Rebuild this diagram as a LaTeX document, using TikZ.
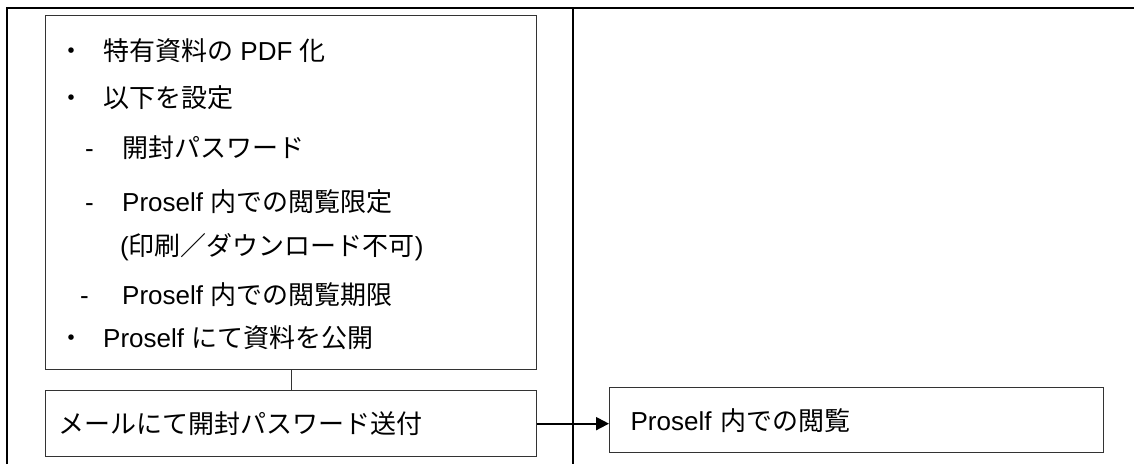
\documentclass[tikz,border=0pt]{standalone}
\usepackage{fontspec}
\setmainfont{Liberation Sans}
\newfontfamily\jpfont{Noto Sans CJK JP}
\newcommand{\ja}[1]{{\jpfont #1}}
\usetikzlibrary{arrows.meta}

\begin{document}
\begin{tikzpicture}[x=1pt,y=-1pt,
    frame/.style={line width=2.6pt},
    box/.style={draw=black!80,line width=1.3pt,inner sep=0pt,anchor=north west},
    item/.style={anchor=west,inner sep=0pt,text height=22pt,text depth=5pt,
      font=\fontsize{26}{30}\selectfont}]
  \useasboundingbox (0,0) rectangle (1136,464);
  % table rules
  \coordinate (tl) at (7,8);
  \coordinate (tr) at (1134,8);
  \coordinate (bl) at (7,464);
  \coordinate (mt) at (573,8);
  \coordinate (mb) at (573,464);
  \draw[frame] (bl) -- (tl) -- (tr);
  \draw[frame] (mt) -- (mb);

  % preparation box
  \node[box,minimum width=491pt,minimum height=354pt] (prep) at (45,15) {};
  \node[item] (p1) at (58,52) {\makebox[45pt][l]{\ja{・}}\ja{特有資料の} PDF \ja{化}};
  \node[item] (p2) at (58,99) {\makebox[45pt][l]{\ja{・}}\ja{以下を設定}};
  \node[item] (p3) at (85,149) {\makebox[37pt][l]{-}\ja{開封パスワード}};
  \node[item] (p4) at (85,203) {\makebox[37pt][l]{-}Proself \ja{内での閲覧限定}};
  \node[item] (p5) at (120,247) {(\ja{印刷／ダウンロード不可})};
  \node[item] (p6) at (80,296) {\makebox[42pt][l]{-}Proself \ja{内での閲覧期限}};
  \node[item] (p7) at (58,339) {\makebox[45pt][l]{\ja{・}}Proself \ja{にて資料を公開}};

  % mail and viewing
  \node[box,minimum width=491pt,minimum height=66pt,text width=465pt,
    inner xsep=13pt,align=left,font=\fontsize{26}{30}\selectfont] (mail) at (45,390)
    {\ja{メールにて開封パスワード送付}};
  \node[box,minimum width=494pt,minimum height=65pt,text width=452pt,
    inner xsep=21pt,inner ysep=0pt,align=left,font=\fontsize{26}{30}\selectfont] (view) at (609,387)
    {Proself \ja{内での閲覧}};

  \draw[black!80,line width=1.3pt] (prep.south) -- (mail.north);
  \draw[line width=2pt,-{Triangle[length=13pt,width=13pt]}] (mail.east) -- (mail.east -| view.west);
\end{tikzpicture}
\end{document}
